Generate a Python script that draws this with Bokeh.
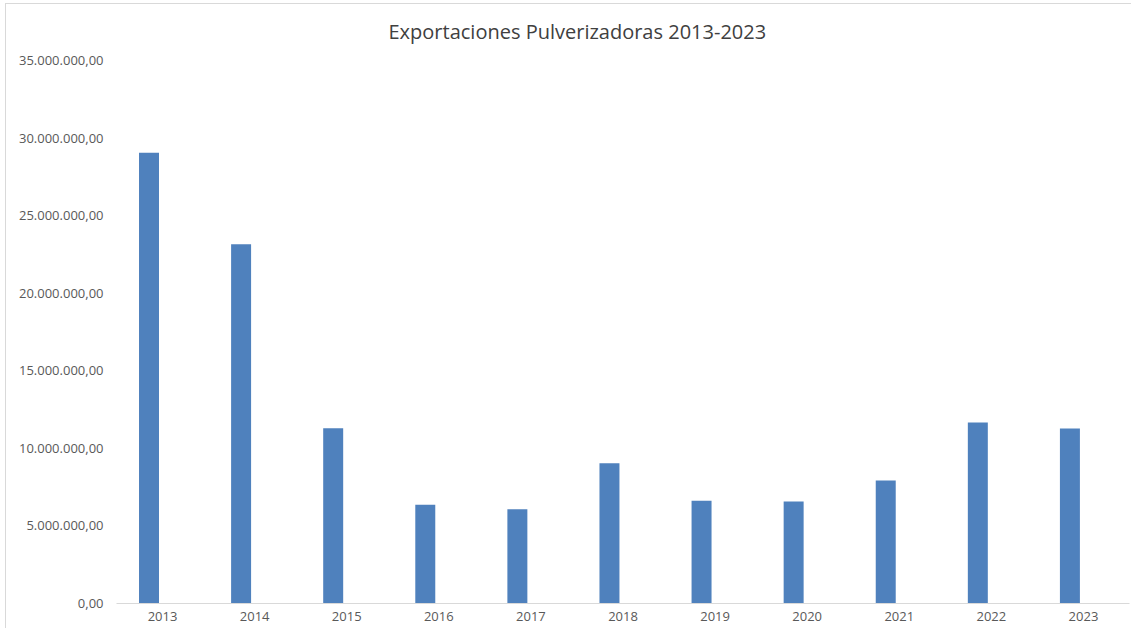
from bokeh.plotting import figure
from bokeh.models import FactorRange, Range1d, ColumnDataSource, CustomJSTickFormatter, FixedTicker
from bokeh.transform import dodge
from bokeh.embed import file_html
from bokeh.resources import INLINE

years = ["2013", "2014", "2015", "2016", "2017", "2018", "2019", "2020", "2021", "2022", "2023"]
exports = [29050000, 23160000, 11300000, 6360000, 6080000, 9040000, 6620000, 6570000, 7930000, 11670000, 11280000]
y_ticks = [0, 5000000, 10000000, 15000000, 20000000, 25000000, 30000000, 35000000]

src = ColumnDataSource(dict(year=years, value=exports))

p = figure(width=1131, height=628, x_range=FactorRange(*years), y_range=Range1d(0, 35000000),
           output_backend="svg", toolbar_location=None,
           min_border_left=116, min_border_right=2, min_border_top=60, min_border_bottom=25)
p.border_fill_color = None
p.background_fill_color = "white"
p.styles = {"background": "linear-gradient(#d9d9d9,#d9d9d9) 5px 3px / 1px 100% no-repeat, "
                          "linear-gradient(#d9d9d9,#d9d9d9) 5px 3px / 100% 1px no-repeat, white"}

p.vbar(x=dodge("year", -0.147, range=p.x_range), top="value", width=0.217, source=src,
       fill_color="#4F81BD", line_color=None)

p.title.text = "Exportaciones Pulverizadoras 2013-2023"
p.title.align = "left"
p.title.offset = 272
p.title.text_font = "Open Sans"
p.title.text_font_size = "20px"
p.title.text_font_style = "normal"
p.title.text_color = "#404040"
p.title.standoff = 31

p.outline_line_color = None
p.xgrid.grid_line_color = None
p.ygrid.grid_line_color = None

p.yaxis.ticker = FixedTicker(ticks=y_ticks)
p.yaxis.formatter = CustomJSTickFormatter(code="""
    const s = Math.round(tick).toString().replace(/\\B(?=(\\d{3})+(?!\\d))/g, '.');
    return s + ',00';
""")
p.yaxis.axis_line_color = None
p.yaxis.major_tick_line_color = None
p.yaxis.minor_tick_line_color = None
p.yaxis.major_tick_out = 0
p.yaxis.major_label_standoff = 13
p.yaxis.major_label_text_font = "Open Sans"
p.yaxis.major_label_text_font_size = "13px"
p.yaxis.major_label_text_color = "#595959"

p.xaxis.axis_line_color = "#d9d9d9"
p.xaxis.axis_line_width = 1
p.xaxis.major_tick_line_color = None
p.xaxis.minor_tick_line_color = None
p.xaxis.major_tick_out = 0
p.xaxis.major_label_standoff = 8
p.xaxis.major_label_text_font = "Open Sans"
p.xaxis.major_label_text_font_size = "13px"
p.xaxis.major_label_text_color = "#595959"

open("out.html", "w").write(file_html(p, INLINE))
